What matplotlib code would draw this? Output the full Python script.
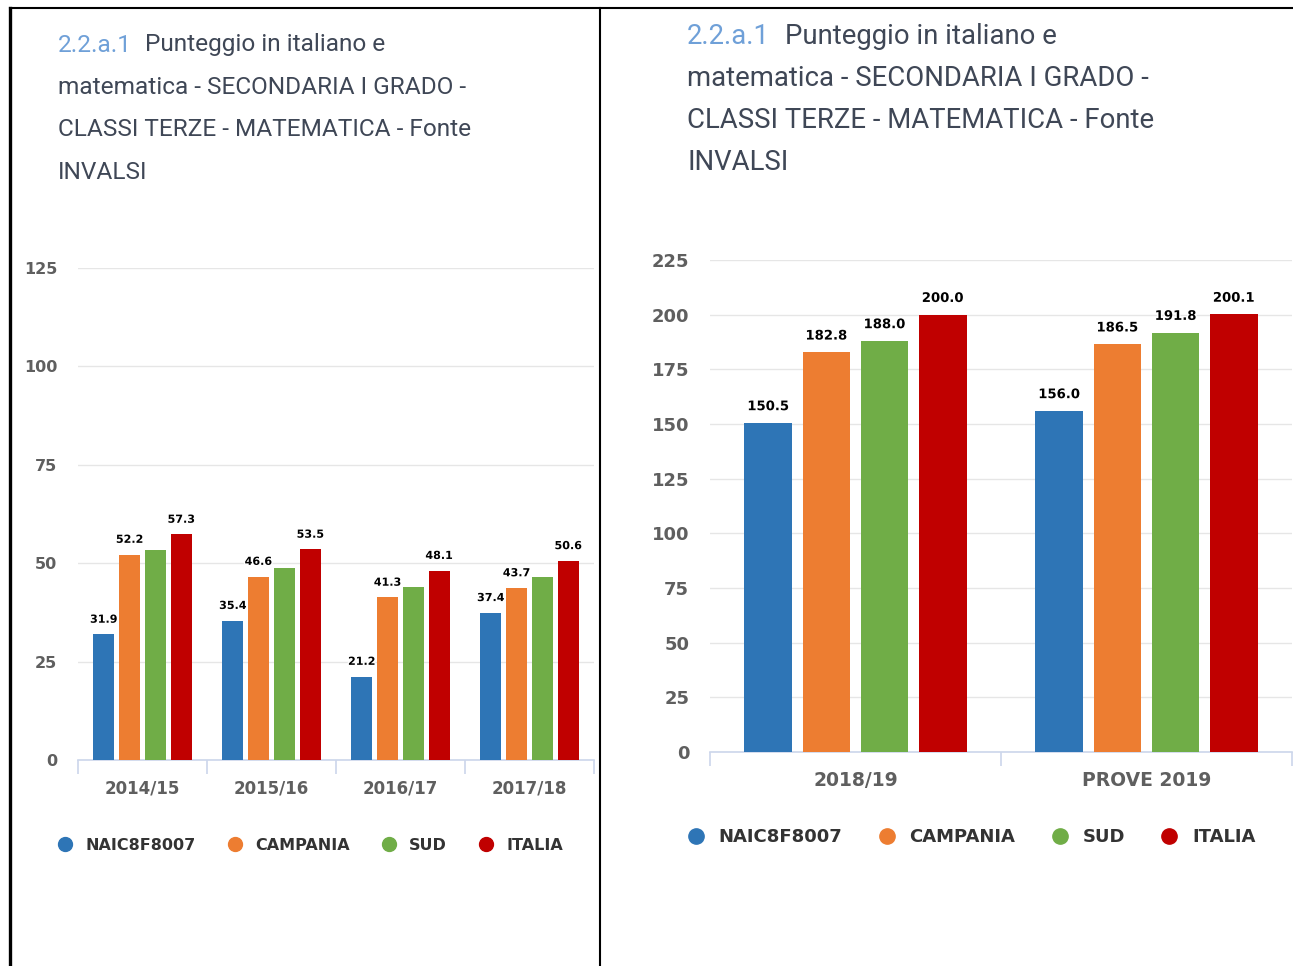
import numpy as np
import matplotlib
matplotlib.use("Agg")
import matplotlib.pyplot as plt
import matplotlib.patheffects as pe
from matplotlib.lines import Line2D

# dati
series = ["NAIC8F8007", "CAMPANIA", "SUD", "ITALIA"]
colors = ["#2e75b6", "#ed7d31", "#70ad47", "#c00000"]

anni_sx = ["2014/15", "2015/16", "2016/17", "2017/18"]
naic_sx = [31.9, 35.4, 21.2, 37.4]
camp_sx = [52.2, 46.6, 41.3, 43.7]
sud_sx = [53.3, 48.8, 44.0, 46.4]
ita_sx = [57.3, 53.5, 48.1, 50.6]
# etichette visibili per serie (nel grafico originale SUD non ha etichette)
show_sx = [True, True, False, True]

anni_dx = ["2018/19", "PROVE 2019"]
naic_dx = [150.5, 156.0]
camp_dx = [182.8, 186.5]
sud_dx = [188.0, 191.8]
ita_dx = [200.0, 200.1]
show_dx = [True, True, True, True]

titolo_num = "2.2.a.1"
titolo_righe = ["Punteggio in italiano e",
                "matematica - SECONDARIA I GRADO -",
                "CLASSI TERZE - MATEMATICA - Fonte",
                "INVALSI"]

W, H = 1293, 966
fig = plt.figure(figsize=(W / 100, H / 100), dpi=100)
fig.patch.set_facecolor("white")

title_font = ["Roboto", "DejaVu Sans"]
grey = "#5f5f5f"
axis_col = "#ccd6eb"


def px_axes(x0, y0, x1, y1):
    return fig.add_axes([x0 / W, 1 - y1 / H, (x1 - x0) / W, (y1 - y0) / H])


def fx(x):
    return x / W


def fy(y):
    return 1 - y / H


def draw_title(x, y0, step, target_w):
    renderer = fig.canvas.get_renderer()
    # misura la seconda riga e adatta la dimensione alla larghezza dell'originale
    prova = fig.text(0, 0, titolo_righe[1], fontsize=20, family=title_font)
    w = prova.get_window_extent(renderer).width
    prova.remove()
    size = 20 * target_w / w
    t = fig.text(fx(x), fy(y0), titolo_num, color="#6fa0d8", fontsize=size,
                 family=title_font, va="center", ha="left")
    bb = t.get_window_extent(renderer)
    fig.text(fx(bb.x1 + size * 0.75), fy(y0), titolo_righe[0], color="#3f4756",
             fontsize=size, family=title_font, va="center", ha="left")
    for i, riga in enumerate(titolo_righe[1:], start=1):
        fig.text(fx(x), fy(y0 + i * step), riga, color="#3f4756", fontsize=size,
                 family=title_font, va="center", ha="left")


def draw_chart(ax, cats, data, show, ymax, ystep, fs, lab_fs, pad):
    n = len(cats)
    x = np.arange(n)
    width = 0.163
    pitch = 0.2
    for i, (vals, col) in enumerate(zip(data, colors)):
        bars = ax.bar(x + (i - 1.5) * pitch, vals, width, color=col, zorder=3)
        if show[i]:
            txt = ax.bar_label(bars, labels=[f"{v:.1f}" for v in vals], padding=pad,
                               fontsize=lab_fs, fontweight="bold", color="black", zorder=4)
            for t in txt:
                t.set_path_effects([pe.withStroke(linewidth=2, foreground="white")])
    ax.set_xlim(-0.5, n - 0.5)
    ax.set_ylim(0, ymax)
    ax.set_yticks(np.arange(0, ymax + 1, ystep))
    ax.yaxis.grid(True, color="#e6e6e6", linewidth=1, zorder=0)
    ax.set_xticks(x)
    ax.set_xticklabels(cats, fontsize=fs, fontweight="bold", color=grey)
    ax.set_xticks(np.arange(-0.5, n, 1), minor=True)
    ax.tick_params(axis="x", which="major", length=0, pad=14)
    ax.tick_params(axis="x", which="minor", length=10, color=axis_col, width=1.2)
    ax.tick_params(axis="y", length=0, pad=15, labelsize=fs - 0.5, labelcolor=grey)
    for lab in ax.get_yticklabels():
        lab.set_fontweight("bold")
    for s in ["top", "right", "left"]:
        ax.spines[s].set_visible(False)
    ax.spines["bottom"].set_color(axis_col)
    ax.spines["bottom"].set_linewidth(1.2)
    ax.set_facecolor("none")


# grafico sinistro
ax1 = px_axes(78, 268, 594, 760)
draw_chart(ax1, anni_sx, [naic_sx, camp_sx, sud_sx, ita_sx], show_sx, 125, 25, 12, 8, 7)
draw_title(58, 45, 42.5, 409)

# grafico destro
ax2 = px_axes(710, 260, 1292, 752)
draw_chart(ax2, anni_dx, [naic_dx, camp_dx, sud_dx, ita_dx], show_dx, 225, 25, 13.5, 9.5, 7)
draw_title(687, 37, 42, 460)

# legende
for cx, cy, fsz, ms in [(310, 845, 11.5, 10), (971, 837, 13, 11)]:
    handles = [Line2D([], [], marker="o", linestyle="", markersize=ms,
                      markerfacecolor=c, markeredgecolor=c) for c in colors]
    leg = fig.legend(handles, series, loc="center", bbox_to_anchor=(fx(cx), fy(cy)),
                     ncol=4, frameon=False, handletextpad=0.75, columnspacing=1.97,
                     handlelength=1.0, prop={"weight": "bold", "size": fsz})
    for t in leg.get_texts():
        t.set_color("#333333")

# bordi della tabella
fig.add_artist(Line2D([fx(10), fx(1293)], [fy(8), fy(8)], color="black", linewidth=1.5))
fig.add_artist(Line2D([fx(10), fx(10)], [fy(8), fy(966)], color="black", linewidth=2.4))
fig.add_artist(Line2D([fx(600), fx(600)], [fy(8), fy(966)], color="black", linewidth=1.5))

fig.savefig("out.png", dpi=100, facecolor="white")
